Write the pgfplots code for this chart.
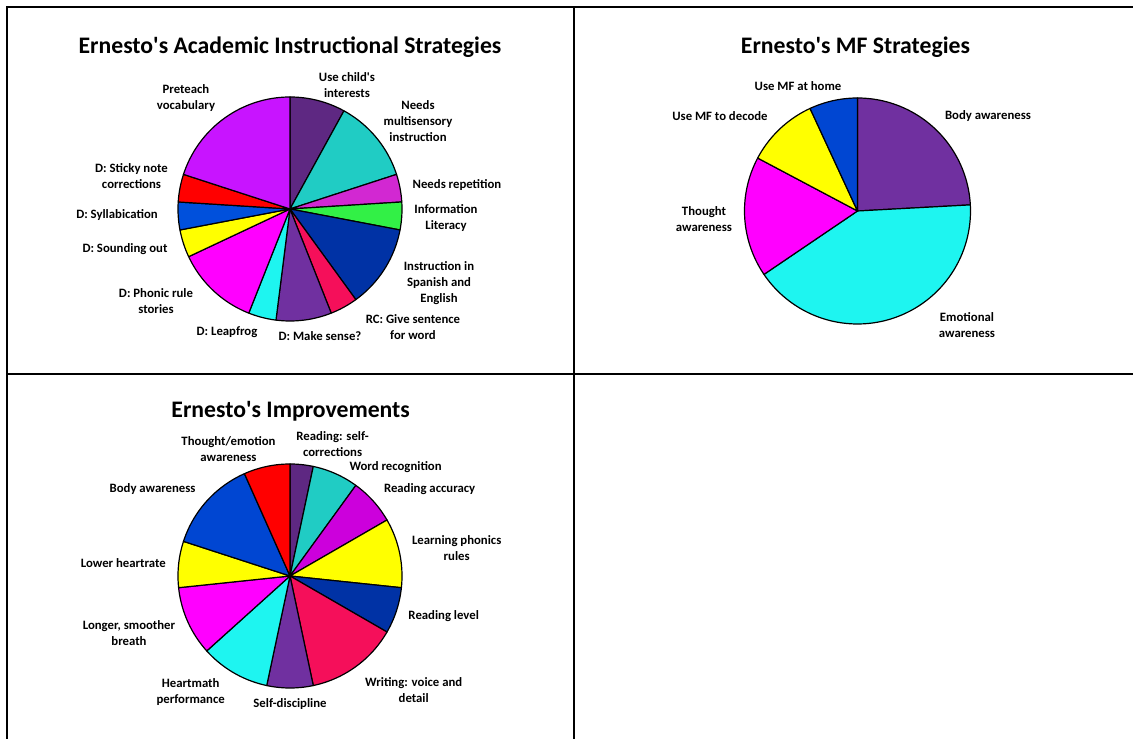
\documentclass[border=0pt]{standalone}
\usepackage{pgfplots}
\pgfplotsset{compat=1.18}
\usepackage{fontspec}
\setmainfont{Carlito}

\definecolor{dpurple}{RGB}{94,40,130}
\definecolor{teal2}{RGB}{32,204,196}
\definecolor{orchid2}{RGB}{210,40,210}
\definecolor{green2}{RGB}{50,240,70}
\definecolor{navy2}{RGB}{0,50,165}
\definecolor{crimson2}{RGB}{245,15,90}
\definecolor{purple2}{RGB}{112,48,160}
\definecolor{cyan2}{RGB}{30,245,240}
\definecolor{magenta2}{RGB}{255,0,255}
\definecolor{yellow2}{RGB}{255,255,0}
\definecolor{blue2}{RGB}{0,80,220}
\definecolor{red2}{RGB}{255,0,0}
\definecolor{violet2}{RGB}{200,20,255}
\definecolor{blue3}{RGB}{0,70,210}
\definecolor{accpurple}{RGB}{204,0,220}

\pgfplotsset{pie/.style={hide axis, clip=false, x=1bp, y=1bp, anchor=south west}}
\tikzset{
  lab/.style={font=\bfseries\fontsize{12.8}{16}\selectfont, align=center, inner sep=0pt},
  ttl/.style={font=\bfseries\fontsize{23.8}{27}\selectfont, inner sep=0pt}
}

% one wedge: #1 = value, #2 = colour; uses \pietotal, \piecum, \cx, \cy, \rr
\newcommand\slice[2]{%
  \pgfmathsetmacro\aS{90-\piecum*360/\pietotal}%
  \pgfmathsetmacro\aE{90-(\piecum+#1)*360/\pietotal}%
  \edef\doslice{\noexpand\addplot[fill=#2, draw=black, line width=1.2bp, line join=round,
      domain=\aE:\aS, samples=90]
      ({\cx+\rr*cos(x)},{\cy+\rr*sin(x)}) -- (axis cs:\cx,\cy) -- cycle;}%
  \doslice
  \pgfmathsetmacro\piecum{\piecum+#1}%
}

\begin{document}
\begin{tikzpicture}[x=1bp,y=1bp]
% ---------------- Pie 1 ----------------
\begin{axis}[pie, xmin=7, xmax=574, ymin=365, ymax=732, at={(7,365)}]
\def\pietotal{25}\def\piecum{0}\def\cx{290}\def\cy{530}\def\rr{112}
\slice{2}{dpurple}   % Use child's interests
\slice{3}{teal2}     % Needs multisensory instruction
\slice{1}{orchid2}   % Needs repetition
\slice{1}{green2}    % Information Literacy
\slice{3}{navy2}     % Instruction in Spanish and English
\slice{1}{crimson2}  % RC: Give sentence for word
\slice{2}{purple2}   % D: Make sense?
\slice{1}{cyan2}     % D: Leapfrog
\slice{3}{magenta2}  % D: Phonic rule stories
\slice{1}{yellow2}   % D: Sounding out
\slice{1}{blue2}     % D: Syllabication
\slice{1}{red2}      % D: Sticky note corrections
\slice{5}{violet2}   % Preteach vocabulary
\node[ttl] at (axis cs:290,692) {Ernesto\textquotesingle s Academic Instructional Strategies};
\node[lab] at (axis cs:347,653.7) {Use child\textquotesingle s\\interests};
\node[lab] at (axis cs:418,618.3) {Needs\\multisensory\\instruction};
\node[lab] at (axis cs:457,553.7) {Needs repetition};
\node[lab] at (axis cs:446,520.7) {Information\\Literacy};
\node[lab] at (axis cs:439,455.7) {Instruction in\\Spanish and\\English};
\node[lab] at (axis cs:413,412) {RC: Give sentence\\for word};
\node[lab] at (axis cs:320,403) {D: Make sense?};
\node[lab] at (axis cs:227,406.7) {D: Leapfrog};
\node[lab] at (axis cs:156,437.7) {D: Phonic rule\\stories};
\node[lab] at (axis cs:125,489.7) {D: Sounding out};
\node[lab] at (axis cs:117,524) {D: Syllabication};
\node[lab] at (axis cs:131.5,563.3) {D: Sticky note\\corrections};
\node[lab] at (axis cs:186,641.3) {Preteach\\vocabulary};
\end{axis}
% ---------------- Pie 2 ----------------
\begin{axis}[pie, xmin=574, xmax=1133, ymin=365, ymax=732, at={(574,365)}]
\def\pietotal{29}\def\piecum{0}\def\cx{857.5}\def\cy{528}\def\rr{113}
\slice{7}{purple2}   % Body awareness
\slice{12}{cyan2}    % Emotional awareness
\slice{5}{magenta2}  % Thought awareness
\slice{3}{yellow2}   % Use MF to decode
\slice{2}{blue3}     % Use MF at home
\node[ttl] at (axis cs:855.5,692) {Ernesto\textquotesingle s MF Strategies};
\node[lab] at (axis cs:798,653) {Use MF at home};
\node[lab] at (axis cs:720,623) {Use MF to decode};
\node[lab] at (axis cs:988,623) {Body awareness};
\node[lab] at (axis cs:704,519.7) {Thought\\awareness};
\node[lab] at (axis cs:967,414) {Emotional\\awareness};
\end{axis}
% ---------------- Pie 3 ----------------
\begin{axis}[pie, xmin=7, xmax=574, ymin=0, ymax=365, at={(7,0)}]
\def\pietotal{30}\def\piecum{0}\def\cx{290}\def\cy{163}\def\rr{112}
\slice{1}{dpurple}   % Reading: self-corrections
\slice{2}{teal2}     % Word recognition
\slice{2}{accpurple} % Reading accuracy
\slice{3}{yellow2}   % Learning phonics rules
\slice{2}{navy2}     % Reading level
\slice{4}{crimson2}  % Writing: voice and detail
\slice{2}{purple2}   % Self-discipline
\slice{3}{cyan2}     % Heartmath performance
\slice{3}{magenta2}  % Longer, smoother breath
\slice{2}{yellow2}   % Lower heartrate
\slice{4}{blue3}     % Body awareness
\slice{2}{red2}      % Thought/emotion awareness
\node[ttl] at (axis cs:290.7,327.3) {Ernesto\textquotesingle s Improvements};
\node[lab] at (axis cs:228.5,289.7) {Thought/emotion\\awareness};
\node[lab] at (axis cs:332.6,294.7) {Reading: self-\\corrections};
\node[lab] at (axis cs:395.6,271.7) {Word recognition};
\node[lab] at (axis cs:429.6,250) {Reading accuracy};
\node[lab] at (axis cs:456.7,191) {Learning phonics\\rules};
\node[lab] at (axis cs:443.7,123) {Reading level};
\node[lab] at (axis cs:413.7,49.3) {Writing: voice and\\detail};
\node[lab] at (axis cs:290,35) {Self-discipline};
\node[lab] at (axis cs:190.7,47) {Heartmath\\performance};
\node[lab] at (axis cs:129,106) {Longer, smoother\\breath};
\node[lab] at (axis cs:123.3,175.7) {Lower heartrate};
\node[lab] at (axis cs:152.6,250) {Body awareness};
\end{axis}
% ---------------- table borders ----------------
\draw[line width=2bp] (7,0) -- (7,732) -- (1133,732);
\draw[line width=2bp] (7,365) -- (1133,365);
\draw[line width=2bp] (574,0) -- (574,732);
\pgfresetboundingbox
\path[use as bounding box] (0,0) rectangle (1133,739);
\end{tikzpicture}
\end{document}
